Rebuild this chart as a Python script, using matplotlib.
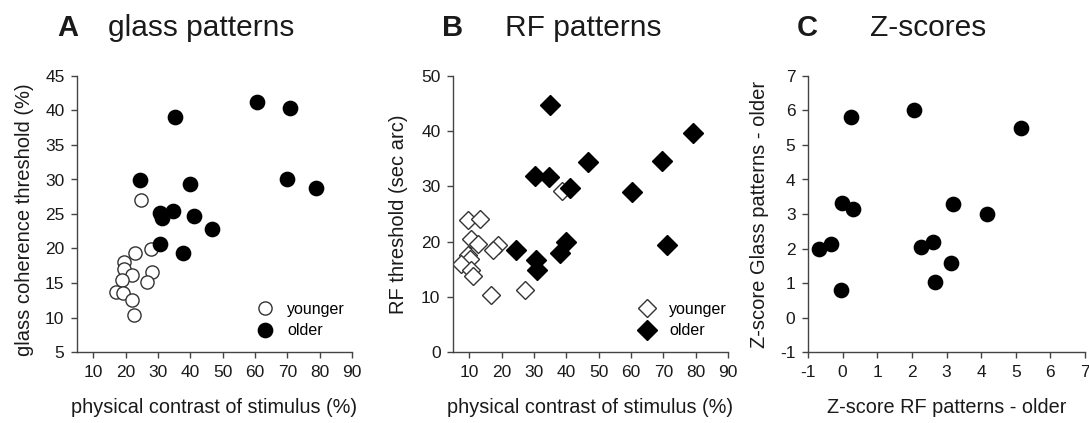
import numpy as np
import matplotlib
matplotlib.use('Agg')
import matplotlib.pyplot as plt

plt.rcParams['font.family'] = ['Liberation Sans', 'DejaVu Sans']
plt.rcParams['axes.unicode_minus'] = False

# A: glass patterns
glass_young_x = [24.8, 27.9, 22.8, 19.4, 19.4, 21.9, 28.2, 18.8, 26.6, 17.2, 19.3, 21.9, 22.5]
glass_young_y = [27.1, 19.9, 19.3, 18.1, 17.1, 16.2, 16.6, 15.4, 15.1, 13.7, 13.5, 12.6, 10.4]
glass_old_x = [24.4, 35.2, 60.5, 70.8, 69.8, 79.0, 40.0, 30.7, 31.2, 34.8, 41.3, 46.7, 30.7, 37.9]
glass_old_y = [29.9, 39.1, 41.3, 40.3, 30.0, 28.7, 29.4, 25.1, 24.4, 25.4, 24.7, 22.8, 20.6, 19.4]

# B: RF patterns
rf_young_x = [38.8, 9.7, 13.3, 10.7, 12.6, 19.0, 17.4, 9.5, 10.2, 7.4, 10.7, 11.2, 16.7, 27.2]
rf_young_y = [29.1, 23.9, 24.1, 20.4, 19.6, 19.4, 18.4, 17.6, 16.8, 15.9, 14.9, 13.8, 10.4, 11.3]
rf_old_x = [34.9, 79.1, 69.5, 46.6, 30.3, 34.7, 41.1, 60.4, 24.6, 39.9, 38.0, 71.0, 30.8, 31.1]
rf_old_y = [44.7, 39.7, 34.6, 34.4, 31.8, 31.7, 29.8, 28.9, 18.4, 20.0, 17.9, 19.4, 16.7, 14.8]

# C: z-scores (older)
z_rf = [-0.69, -0.33, -0.04, -0.01, 0.30, 0.23, 2.06, 2.26, 2.61, 2.66, 3.13, 3.19, 4.16, 5.15]
z_glass = [1.98, 2.13, 0.80, 3.31, 3.15, 5.80, 6.02, 2.03, 2.18, 1.04, 1.58, 3.28, 2.99, 5.50]

W, H = 1089, 423
fig = plt.figure(figsize=(W / 100, H / 100), dpi=100)

spine_col = '#444444'
txt_col = '#1a1a1a'


def style_axes(ax):
    for s in ['top', 'right']:
        ax.spines[s].set_visible(False)
    for s in ['left', 'bottom']:
        ax.spines[s].set_color(spine_col)
        ax.spines[s].set_linewidth(1.0)
    ax.tick_params(direction='out', length=4, width=1, color=spine_col,
                   labelsize=12.5, labelcolor=txt_col, pad=5)


def px_axes(left, right, top=76, bottom=352):
    return fig.add_axes([left / W, (H - bottom) / H, (right - left) / W, (bottom - top) / H])


def titles(xa, xb, letter, name):
    fig.text(xa / W, 1 - 36.5 / H, letter, fontsize=21, fontweight='bold', va='baseline', color=txt_col)
    fig.text(xb / W, 1 - 36.5 / H, name, fontsize=21.5, va='baseline', color=txt_col)


leg_kw = dict(loc='upper left', frameon=False, fontsize=11.5, borderpad=0,
              handletextpad=0.8, labelspacing=0.4, handlelength=1.2)

# panel A
ax1 = px_axes(77, 352)
style_axes(ax1)
ax1.plot(glass_young_x, glass_young_y, 'o', ms=9.5, mfc='white', mec='#333333', mew=1.0,
         ls='none', label='younger')
ax1.plot(glass_old_x, glass_old_y, 'o', ms=10.3, mfc='black', mec='black', ls='none', label='older')
ax1.set_xlim(5, 90)
ax1.set_ylim(5, 45)
ax1.set_xticks(np.arange(10, 91, 10))
ax1.set_yticks(np.arange(5, 46, 5))
ax1.set_xlabel('physical contrast of stimulus (%)', fontsize=14.3, color=txt_col)
ax1.set_ylabel('glass coherence threshold (%)', fontsize=14.5, color=txt_col)
ax1.xaxis.set_label_coords(0.5, -0.165)
ax1.yaxis.set_label_coords(-0.157, 0.48)
ax1.legend(bbox_to_anchor=(0.62, 0.21), **leg_kw)
titles(57, 108, 'A', 'glass patterns')

# panel B
ax2 = px_axes(453, 728)
style_axes(ax2)
ax2.plot(rf_young_x, rf_young_y, 'D', ms=9.6, mfc='white', mec='#333333', mew=1.0,
         ls='none', label='younger')
ax2.plot(rf_old_x, rf_old_y, 'D', ms=10.2, mfc='black', mec='black', ls='none', label='older')
ax2.set_xlim(5, 90)
ax2.set_ylim(0, 50)
ax2.set_xticks(np.arange(10, 91, 10))
ax2.set_yticks(np.arange(0, 51, 10))
ax2.set_xlabel('physical contrast of stimulus (%)', fontsize=14.3, color=txt_col)
ax2.set_ylabel('RF threshold (sec arc)', fontsize=14.5, color=txt_col)
ax2.xaxis.set_label_coords(0.5, -0.165)
ax2.yaxis.set_label_coords(-0.165, 0.5)
ax2.legend(bbox_to_anchor=(0.64, 0.21), **leg_kw)
titles(442, 505, 'B', 'RF patterns')

# panel C
ax3 = px_axes(808, 1085)
style_axes(ax3)
ax3.plot(z_rf, z_glass, 'o', ms=10.3, mfc='black', mec='black', ls='none')
ax3.set_xlim(-1, 7)
ax3.set_ylim(-1, 7)
ax3.set_xticks(np.arange(-1, 8, 1))
ax3.set_yticks(np.arange(-1, 8, 1))
ax3.set_xlabel('Z-score RF patterns - older', fontsize=14.3, color=txt_col)
ax3.set_ylabel('Z-score Glass patterns - older', fontsize=14.5, color=txt_col)
ax3.xaxis.set_label_coords(0.5, -0.165)
ax3.yaxis.set_label_coords(-0.14, 0.5)
titles(797, 870, 'C', 'Z-scores')

fig.savefig('out.png', dpi=100)
